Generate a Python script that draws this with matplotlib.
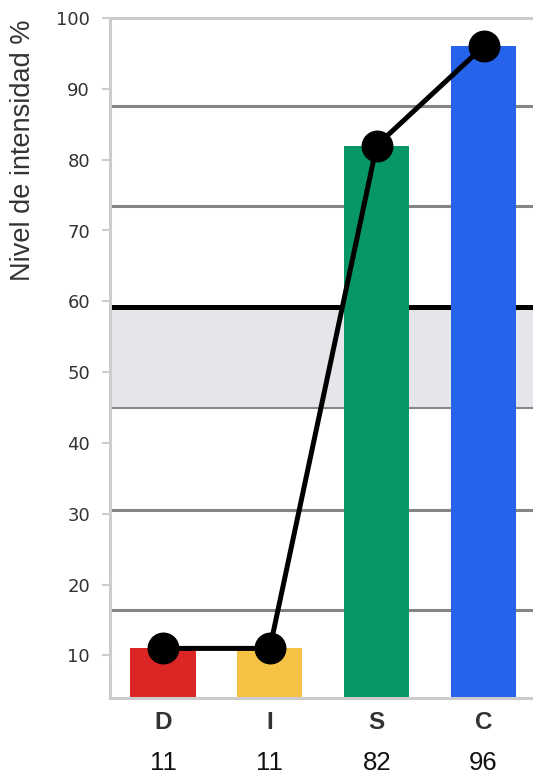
import matplotlib
matplotlib.use("Agg")
import matplotlib.pyplot as plt

# DISC profile data
categories = ["D", "I", "S", "C"]
values = [11, 11, 82, 96]
bar_colors = ["#DC2626", "#F6C244", "#069668", "#2563EB"]

# reference levels on the intensity scale
grid_levels = [16.4, 30.5, 73.4, 87.6]
band_low, band_high = 44.9, 59.2
y_ticks = [10, 20, 30, 40, 50, 60, 70, 80, 90, 100]

W, H = 533, 775
fig = plt.figure(figsize=(W / 100, H / 100), dpi=100)
left_px, right_px, top_px, bottom_px = 109.5, 537, 18, 698
ax = fig.add_axes([left_px / W, 1 - bottom_px / H,
                   (right_px - left_px) / W, (bottom_px - top_px) / H])

x = list(range(len(categories)))

# shaded band and horizontal reference lines
ax.axhspan(band_low, band_high, color="#E5E6EA", zorder=0, lw=0)
ax.axhline(band_low, color="#888888", lw=1.5, zorder=1)
ax.axhline(band_high, color="#000000", lw=3.6, zorder=1)
for g in grid_levels:
    ax.axhline(g, color="#858585", lw=2.2, zorder=1)

# bars and the connecting profile line
ax.bar(x, values, width=0.61, color=bar_colors, zorder=2, bottom=0)
ax.plot(x, values, color="black", lw=3.6, marker="o", markersize=22,
        markerfacecolor="black", markeredgecolor="black", zorder=4,
        clip_on=False)

ax.set_xlim(-0.5, 3.5)
ax.set_ylim(4, 100)

# axes styling
for side in ["left", "bottom", "top"]:
    ax.spines[side].set_color("#CCCCCC")
    ax.spines[side].set_linewidth(2.2)
ax.spines["right"].set_visible(False)

ax.set_yticks(y_ticks)
ax.set_yticklabels([str(t) for t in y_ticks], fontsize=13,
                   color="#333333", family="DejaVu Sans")
ax.tick_params(axis="y", length=6, width=1.5, color="#CCCCCC", pad=8)
ax.set_xticks([])

# category letters and their scores under the axis
for xi, cat, v in zip(x, categories, values):
    ax.annotate(cat, xy=(xi, 0), xycoords=("data", "axes fraction"),
                xytext=(0, -17.5), textcoords="offset points",
                ha="center", va="center", fontsize=17.5, fontweight="bold",
                color="#333333", family="Liberation Sans")
    ax.annotate(str(v), xy=(xi, 0), xycoords=("data", "axes fraction"),
                xytext=(0, -46.5), textcoords="offset points",
                ha="center", va="center", fontsize=18.5,
                color="#111111", family="Liberation Sans")

fig.text(23 / W, 1 - 150 / H, "Nivel de intensidad %", rotation=90,
         ha="center", va="center", fontsize=19.5, color="#333333",
         family="Liberation Sans")

fig.savefig("out.png", dpi=100)
